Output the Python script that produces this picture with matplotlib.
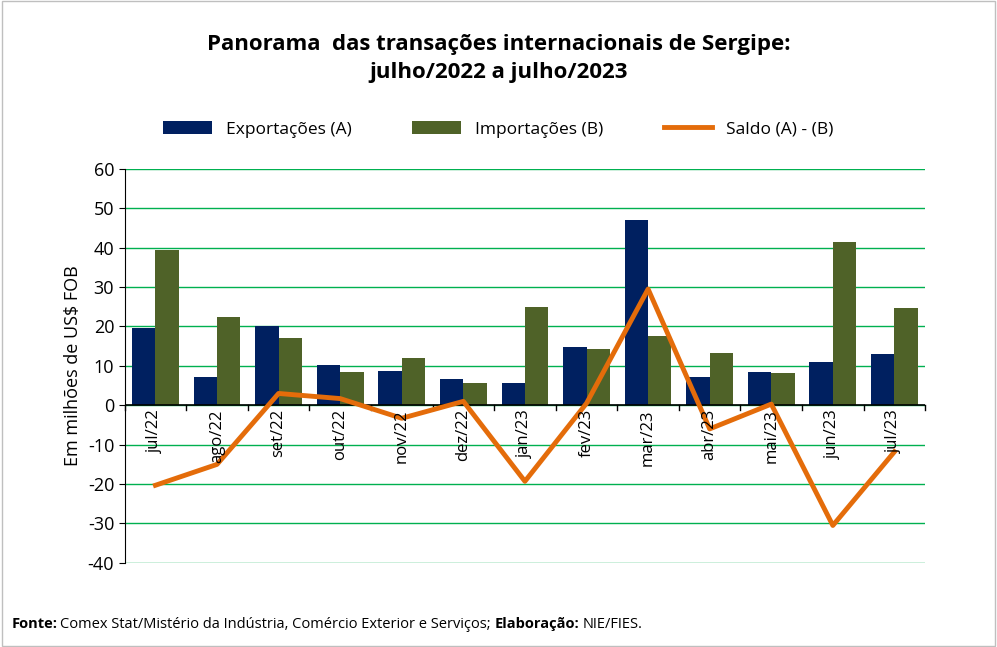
import numpy as np
import matplotlib.pyplot as plt
from matplotlib.patches import Rectangle

meses = ["jul/22", "ago/22", "set/22", "out/22", "nov/22", "dez/22", "jan/23",
         "fev/23", "mar/23", "abr/23", "mai/23", "jun/23", "jul/23"]
exportacoes = [19.5, 7.2, 20.1, 10.2, 8.8, 6.7, 5.7, 14.9, 47.0, 7.3, 8.5, 11.0, 13.0]
importacoes = [39.5, 22.3, 17.2, 8.5, 12.1, 5.7, 25.0, 14.4, 17.5, 13.3, 8.2, 41.5, 24.8]
saldo = [-20.3, -15.0, 3.0, 1.7, -3.3, 1.0, -19.3, 0.5, 29.5, -6.0, 0.3, -30.5, -11.8]

plt.rcParams['font.family'] = ['Open Sans', 'DejaVu Sans']
plt.rcParams['axes.unicode_minus'] = False

fig = plt.figure(figsize=(9.97, 6.47), dpi=100)
fig.patches.append(Rectangle((0.002, 0.002), 0.996, 0.996, transform=fig.transFigure,
                             fill=False, edgecolor="#bfbfbf", linewidth=1))
ax = fig.add_axes([0.125, 0.130, 0.803, 0.609])

x = np.arange(len(meses))
w = 0.38
b1 = ax.bar(x - w / 2, exportacoes, w, color="#002060", label="Exportações (A)")
b2 = ax.bar(x + w / 2, importacoes, w, color="#4f6228", label="Importações (B)")
l1, = ax.plot(x, saldo, color="#e46c0a", linewidth=3.5, label="Saldo (A) - (B)")

ax.set_ylim(-40, 60)
ax.set_xlim(-0.5, len(meses) - 0.5)
ax.set_yticks(range(-40, 61, 10))
ax.yaxis.grid(True, color="#00b050", linewidth=1)
ax.set_axisbelow(True)
for s in ["top", "right", "bottom"]:
    ax.spines[s].set_visible(False)
ax.axhline(0, color="black", linewidth=1.2, zorder=1.5)
ax.set_xticks([])
for xi in np.arange(-0.5, len(meses), 1):
    ax.plot([xi, xi], [0, -1.2], color="black", linewidth=1, clip_on=False, zorder=1.5)
for xi, m in zip(x, meses):
    ax.text(xi, -1, m, rotation=90, ha="center", va="top", fontsize=12)
ax.tick_params(axis="y", labelsize=13, length=4)
ax.set_ylabel("Em milhões de US$ FOB", fontsize=13)

fig.text(0.5, 0.948, "Panorama  das transações internacionais de Sergipe:\njulho/2022 a julho/2023",
         ha="center", va="top", fontsize=16, fontweight="bold", linespacing=1.45)
fig.legend([b1, b2, l1], ["Exportações (A)", "Importações (B)", "Saldo (A) - (B)"],
           loc="center", bbox_to_anchor=(0.5, 0.8), ncol=3, frameon=False, fontsize=12.5,
           handlelength=2.8, handleheight=0.8, columnspacing=3.5)
t1 = fig.text(0.012, 0.035, "Fonte:", fontsize=10.5, va="center", fontweight="bold")
fig.canvas.draw()
r = fig.canvas.get_renderer()
bb = t1.get_window_extent(r)
x1 = bb.x1 / fig.bbox.width + 0.002
t2 = fig.text(x1, 0.035, "Comex Stat/Mistério da Indústria, Comércio Exterior e Serviços;",
              fontsize=10.5, va="center")
bb = t2.get_window_extent(r)
x2 = bb.x1 / fig.bbox.width + 0.004
t3 = fig.text(x2, 0.035, "Elaboração:", fontsize=10.5, va="center", fontweight="bold")
bb = t3.get_window_extent(r)
fig.text(bb.x1 / fig.bbox.width + 0.003, 0.035, "NIE/FIES.", fontsize=10.5, va="center")
fig.savefig("out.png")
